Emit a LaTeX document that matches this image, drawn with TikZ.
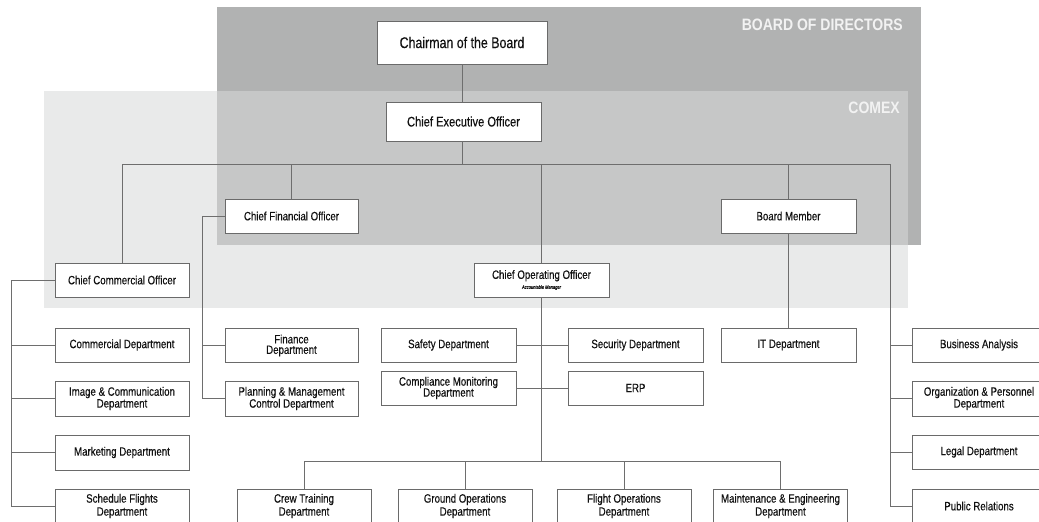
\documentclass[tikz,border=0pt]{standalone}
\usepackage{fontspec}
\setmainfont{Liberation Sans}[FakeStretch=0.8, FakeBold=0.35]
\newfontfamily\zonefont{Liberation Sans}[FakeStretch=0.85]
\begin{document}
\begin{tikzpicture}[x=1pt,y=-1pt,
  box/.style={draw=boxline, line width=0.9pt, fill=white, text=txt, align=center,
    minimum width=134pt, minimum height=34pt, inner sep=1pt,
    font=\fontsize{12.1}{10.5}\selectfont},
  lead/.style={font=\fontsize{12.1}{#1}\selectfont},
  topbox/.style={box, font=\fontsize{15.5}{16}\selectfont},
  wire/.style={draw=wireline, line width=1pt},
  zone/.style={text=zonetext, font=\zonefont\bfseries\fontsize{16.5}{17}\selectfont,
    anchor=east, inner sep=0pt}]
\definecolor{boxline}{HTML}{6A6A6A}
\definecolor{wireline}{HTML}{6E6E6E}
\definecolor{txt}{HTML}{111111}
\definecolor{boardfill}{HTML}{B1B2B2}
\definecolor{comexfill}{HTML}{E9EAEA}
\definecolor{bothfill}{HTML}{C6C7C7}
\definecolor{zonetext}{HTML}{F2F2F2}
\useasboundingbox (0,0) rectangle (1039,522);
\clip (0,0) rectangle (1039,522);
\fill[white] (0,0) rectangle (1039,522);

% governance zones
\fill[comexfill] (44,91) rectangle (908,308);
\fill[boardfill] (217,7) rectangle (921,245);
\fill[bothfill] (217,91) rectangle (908,245);
\node[zone] (bodlabel) at (903,25) {BOARD OF DIRECTORS};
\node[zone] (comexlabel) at (900,108) {COMEX};

% executives
\node[topbox, minimum width=170pt, minimum height=43pt] (chair) at (462,42.5) {Chairman of the Board};
\node[topbox, minimum width=155pt, minimum height=39pt, font=\fontsize{13.9}{14}\selectfont] (ceo) at (463.5,121.5) {Chief Executive Officer};
\node[box, minimum width=133pt] (cfo) at (291.5,216) {Chief Financial Officer};
\node[box, minimum width=135pt] (bm) at (788.5,216) {Board Member};
\node[box] (cco) at (122,280) {Chief Commercial Officer};
\node[box, minimum width=135pt] (coo) at (541.5,280) {Chief Operating Officer\\[-0.5pt]{\itshape\fontsize{5}{5}\selectfont Accountable Manager}};

% commercial departments
\node[box] (comm) at (122,345) {Commercial Department};
\node[box, minimum height=35pt] (img) at (122,398.5) {Image \& Communication\\Department};
\node[box, minimum height=35pt] (mkt) at (122,452.5) {Marketing Department};
\node[box, lead=13] (sched) at (122,506) {Schedule Flights\\Department};

% finance departments
\node[box, minimum width=133pt, lead=10.5] (fin) at (291.5,345.5) {Finance\\Department};
\node[box, minimum width=133pt, minimum height=35pt, lead=12] (plan) at (291.5,398.5) {Planning \& Management\\Control Department};

% operations staff units
\node[box, minimum width=135pt] (safety) at (448.5,345) {Safety Department};
\node[box, minimum width=135pt] (security) at (635.5,345) {Security Department};
\node[box, minimum width=135pt, lead=11] (compl) at (448.5,388) {Compliance Monitoring\\Department};
\node[box, minimum width=135pt] (erp) at (635.5,388) {ERP};

% IT
\node[box, minimum width=135pt] (it) at (788.5,345) {IT Department};

% operations departments
\node[box, lead=13] (crew) at (304,506) {Crew Training\\Department};
\node[box, lead=13] (ground) at (465,506) {Ground Operations\\Department};
\node[box, lead=13] (flight) at (624,506) {Flight Operations\\Department};
\node[box, lead=13] (maint) at (780.5,506) {Maintenance \& Engineering\\Department};

% CEO staff departments
\node[box] (ba) at (979,345) {Business Analysis};
\node[box, minimum height=35pt, lead=10.5] (org) at (979,398.5) {Organization \& Personnel\\Department};
\node[box] (legal) at (979,452) {Legal Department};
\node[box] (pr) at (979,506) {Public Relations};

% junction points
\coordinate (busL) at (122,164);
\coordinate (busR) at (890,164);
\coordinate (opsJ) at (541.5,461);
\coordinate (ccoRail) at (11,280);
\coordinate (cfoRail) at (202,216);
\coordinate (staffRail) at (890,506);

% connectors
\path[wire] (chair.south) -- (chair.south |- ceo.north);
\path[wire] (chair.south |- ceo.south) -- (chair.south |- busL);
\path[wire] (busL) -- (busR);
\path[wire] (busL) -- (cco.north);
\path[wire] (cfo.north |- busL) -- (cfo.north);
\path[wire] (bm.north |- busL) -- (bm.north);
\path[wire] (coo.north |- busL) -- (coo.north);
\path[wire] (busR) -- (staffRail);
\path[wire] (ba.west -| busR) -- (ba.west);
\path[wire] (org.west -| busR) -- (org.west);
\path[wire] (legal.west -| busR) -- (legal.west);
\path[wire] (pr.west -| busR) -- (pr.west);
\path[wire] (cco.west) -- (ccoRail) |- (sched.west);
\path[wire] (comm.west -| ccoRail) -- (comm.west);
\path[wire] (img.west -| ccoRail) -- (img.west);
\path[wire] (mkt.west -| ccoRail) -- (mkt.west);
\path[wire] (cfo.west) -- (cfoRail) |- (plan.west);
\path[wire] (fin.west -| cfoRail) -- (fin.west);
\path[wire] (bm.south) -- (it.north);
\path[wire] (coo.south) -- (opsJ);
\path[wire] (safety.east) -- (security.west);
\path[wire] (compl.east) -- (erp.west);
\path[wire] (crew.north |- opsJ) -- (maint.north |- opsJ);
\path[wire] (crew.north |- opsJ) -- (crew.north);
\path[wire] (ground.north |- opsJ) -- (ground.north);
\path[wire] (flight.north |- opsJ) -- (flight.north);
\path[wire] (maint.north |- opsJ) -- (maint.north);
\end{tikzpicture}
\end{document}
